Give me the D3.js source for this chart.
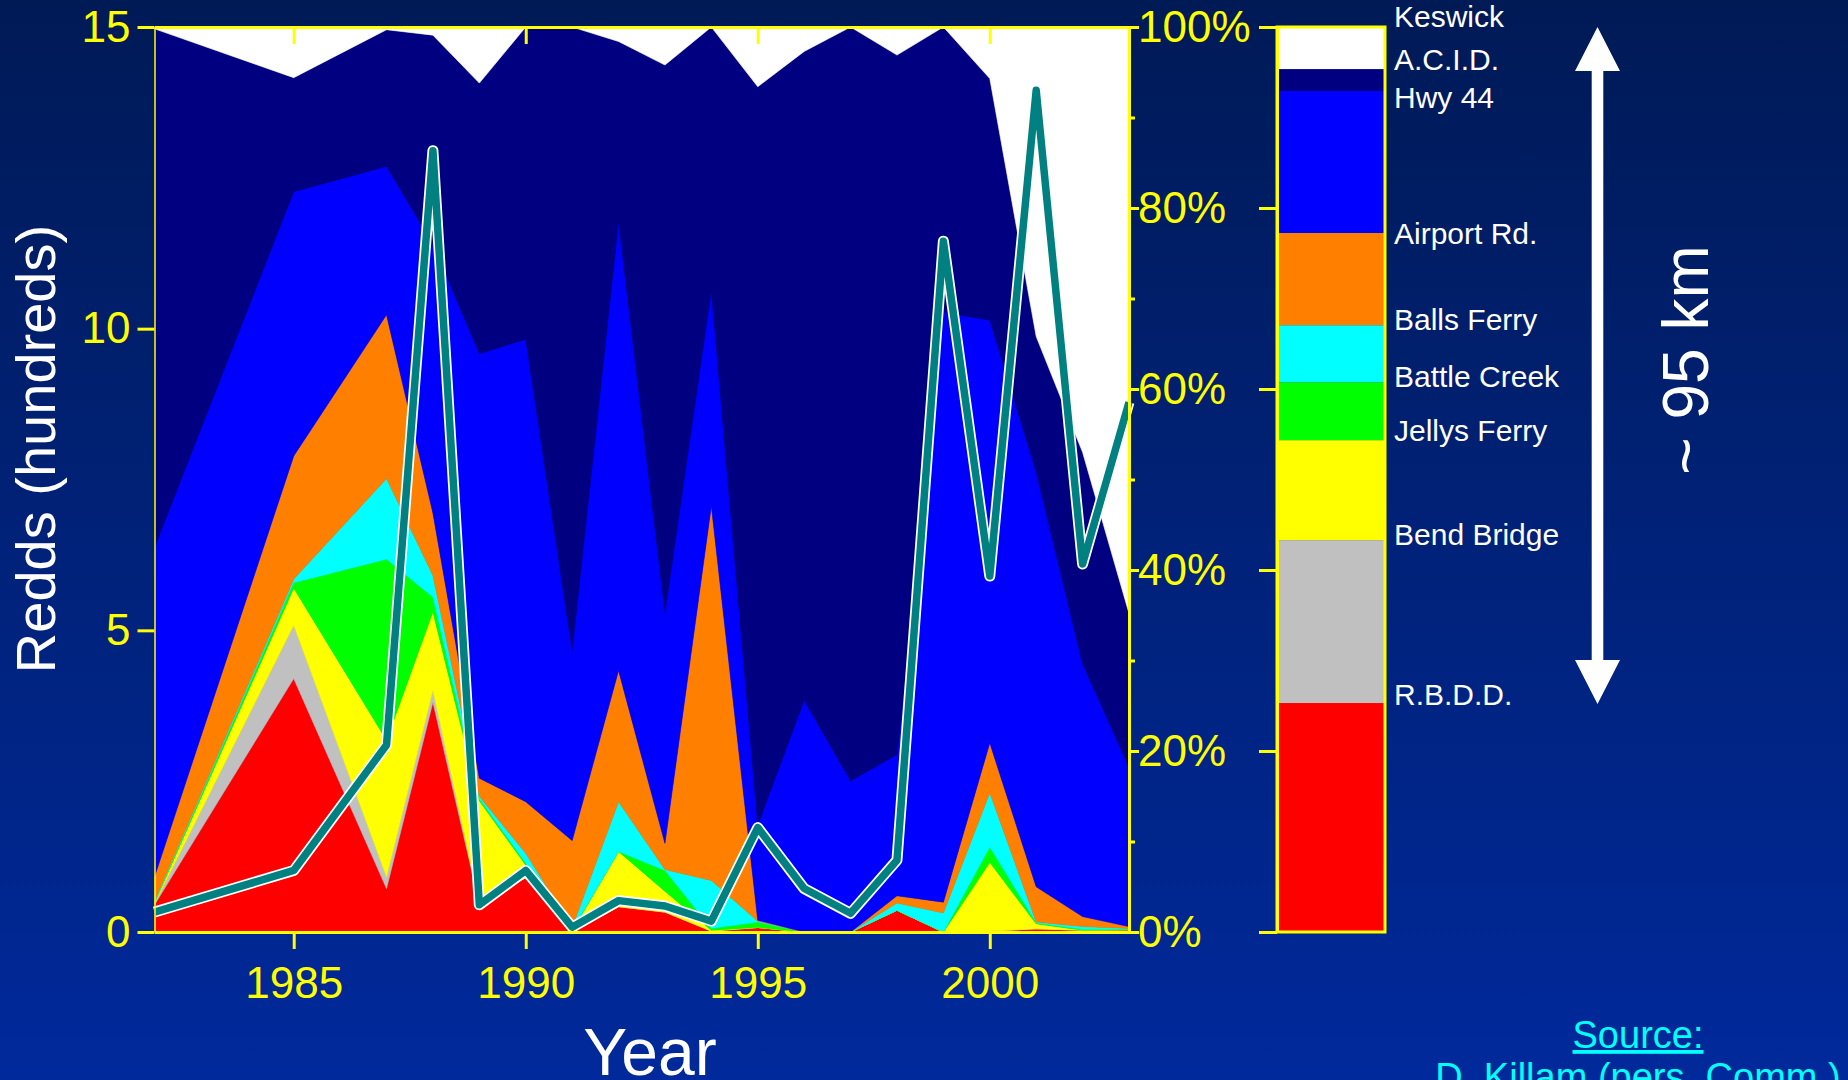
<!DOCTYPE html>
<html>
<head>
<meta charset="utf-8">
<script src="https://cdn.jsdelivr.net/npm/d3@7/dist/d3.min.js"></script>
<style>
  html, body { margin: 0; padding: 0; background: #001b58; }
  svg { display: block; }
  text { font-family: "Liberation Sans", Arial, Helvetica, sans-serif; }
</style>
</head>
<body>
<svg id="chart" width="1848" height="1080"></svg>
<script>
// ---- Data -------------------------------------------------------------
// Survey years (1983, 1984 and 1986 have no survey)
const years = [1982, 1985, 1987, 1988, 1989, 1990, 1991, 1992, 1993, 1994,
               1995, 1996, 1997, 1998, 1999, 2000, 2001, 2002, 2003];

// Share of redds (%) in each river reach, named by the reach's upstream landmark
const pctRBDD      = [3.0, 28.0, 4.8, 25.4, 3.1, 6.0, 0.0, 2.8, 2.2, 0.1, 0.5, 0.0, 0.0, 2.4, 0.0, 0.1, 0.35, 0.2, 0.25];
const pctBendBr    = [0.1, 5.9, 1.3, 1.3, 0.1, 0.0, 0.0, 0.0, 0.0, 0.0, 0.0, 0.0, 0.0, 0.0, 0.0, 0.0, 0.0, 0.0, 0.0];
const pctJellys    = [0.1, 4.1, 15.1, 8.7, 11.3, 1.4, 0.1, 6.1, 2.3, 0.1, 0.0, 0.0, 0.0, 0.0, 0.0, 7.6, 0.55, 0.0, 0.0];
const pctBattle    = [0.1, 0.6, 20.0, 1.6, 0.2, 0.2, 0.1, 0.0, 2.3, 0.2, 0.6, 0.0, 0.0, 0.0, 0.0, 1.7, 0.1, 0.1, 0.05];
const pctBalls     = [0.1, 0.4, 8.9, 2.4, 0.3, 1.1, 0.3, 5.5, 0.1, 5.3, 0.1, 0.0, 0.0, 0.8, 2.1, 6.0, 0.1, 0.3, 0.1];
const pctAirport   = [2.7, 13.6, 18.1, 6.9, 2.0, 5.7, 9.6, 14.5, 2.9, 41.4, 0.1, 0.0, 0.0, 0.8, 1.2, 5.5, 3.9, 1.1, 0.2];
const pctHwy44     = [36.4, 29.2, 16.4, 29.7, 46.9, 51.1, 21.0, 49.6, 25.5, 23.8, 10.5, 25.6, 16.7, 15.6, 65.2, 46.7, 45.8, 27.9, 17.6];
const pctACID      = [57.3, 12.6, 15.1, 23.1, 29.9, 34.5, 68.9, 19.9, 60.5, 29.1, 81.6, 71.7, 83.3, 77.3, 31.5, 26.7, 15.0, 23.4, 17.0];
const pctKeswick   = [0.2, 5.6, 0.3, 0.9, 6.2, 0.0, 0.0, 1.6, 4.2, 0.0, 6.6, 2.7, 0.0, 3.1, 0.0, 5.7, 34.2, 47.0, 64.8];

// Total redds counted (hundreds)
const totalRedds = [0.33, 1.02, 3.1, 12.95, 0.45, 1.02, 0.08, 0.52, 0.43, 0.18,
                    1.73, 0.72, 0.31, 1.19, 11.45, 5.9, 13.95, 6.1, 8.78];

// Reach names (downstream to upstream) and colours
const reachNames  = ["R.B.D.D.", "Bend Bridge", "Jellys Ferry", "Battle Creek", "Balls Ferry",
                     "Airport Rd.", "Hwy 44", "A.C.I.D.", "Keswick"];
const reachColors = ["#ff0000", "#c0c0c0", "#ffff00", "#00ff00", "#00ffff",
                     "#ff8000", "#0000ff", "#000080", "#ffffff"];
// Share of the ~95 km river length (%) taken by each reach, same order
const reachLength = [25.3, 18.0, 11.05, 6.4, 6.3, 10.2, 15.7, 2.4, 4.65];

// Axis ticks
const leftTicks   = [0, 5, 10, 15];
const rightTicks  = [0, 20, 40, 60, 80, 100];
const minorTicks  = [10, 30, 50, 70, 90];
const yearTicks   = [1985, 1990, 1995, 2000];

// ---- Layout -----------------------------------------------------------
const W = 1848, H = 1080;
const plot = { left: 154.5, right: 1129, top: 27, bottom: 932 };
const bar  = { left: 1277, right: 1385 };
const yellow = "#ffff00";
// vertical nudge of each landmark label from its boundary (px), same order as reachNames
const labelShift = [2, 5, 1, 5, 5, 11, 17, 1, 0];

const svg = d3.select("#chart");

// background
const defs = svg.append("defs");
const grad = defs.append("linearGradient").attr("id", "bg")
  .attr("x1", 0).attr("y1", 0).attr("x2", 0).attr("y2", 1);
grad.append("stop").attr("offset", "0%").attr("stop-color", "#001a56");
grad.append("stop").attr("offset", "100%").attr("stop-color", "#00299b");
svg.append("rect").attr("width", W).attr("height", H).attr("fill", "url(#bg)");

defs.append("clipPath").attr("id", "plotClip")
  .append("rect")
  .attr("x", plot.left).attr("y", plot.top)
  .attr("width", plot.right - plot.left).attr("height", plot.bottom - plot.top);

// ---- Scales -----------------------------------------------------------
const x  = d3.scaleLinear().domain([1982, 2003]).range([plot.left, plot.right]);
const yL = d3.scaleLinear().domain([0, 15]).range([plot.bottom, plot.top]);
const yR = d3.scaleLinear().domain([0, 100]).range([plot.bottom, plot.top]);

// ---- Stacked percentage areas ------------------------------------------
const seriesArrays = [pctRBDD, pctBendBr, pctJellys, pctBattle, pctBalls,
                      pctAirport, pctHwy44, pctACID, pctKeswick];
const rows = years.map((yr, i) => {
  const r = { year: yr };
  reachNames.forEach((n, k) => { r[n] = seriesArrays[k][i]; });
  return r;
});
const stack = d3.stack().keys(reachNames)(rows);

const area = d3.area()
  .x(d => x(d.data.year))
  .y0(d => yR(d[0]))
  .y1(d => yR(d[1]));

svg.append("g").attr("clip-path", "url(#plotClip)")
  .selectAll("path").data(stack).join("path")
  .attr("d", area)
  .attr("fill", (d, i) => reachColors[i])
  .attr("stroke", (d, i) => reachColors[i])
  .attr("stroke-width", 0.6);

// ---- Total redds line -------------------------------------------------
const line = d3.line().x((d, i) => x(years[i])).y(d => yL(d));
const lineG = svg.append("g");
lineG.append("path").datum(totalRedds).attr("d", line)
  .attr("fill", "none").attr("stroke", "#ffffff").attr("stroke-width", 11)
  .attr("stroke-linejoin", "round");
lineG.append("path").datum(totalRedds).attr("d", line)
  .attr("fill", "none").attr("stroke", "#008080").attr("stroke-width", 7.5)
  .attr("stroke-linejoin", "round");

// ---- Axes -------------------------------------------------------------
function styleAxis(g, domainWidth) {
  g.selectAll(".tick line").attr("stroke", yellow).attr("stroke-width", 3);
  g.select(".domain").attr("stroke", yellow).attr("stroke-width", domainWidth);
  g.selectAll(".tick text").attr("fill", yellow).attr("font-size", 44)
    .attr("font-family", "'Liberation Sans', Arial, sans-serif");
}

// left (redds, hundreds)
const axL = svg.append("g").attr("transform", `translate(${plot.left},0)`)
  .call(d3.axisLeft(yL).tickValues(leftTicks).tickSize(17).tickSizeOuter(0).tickPadding(7));
styleAxis(axL, 1.5);

// bottom (years)
const axB = svg.append("g").attr("transform", `translate(0,${plot.bottom})`)
  .call(d3.axisBottom(x).tickValues(yearTicks).tickFormat(d3.format("d"))
        .tickSize(17).tickSizeOuter(0).tickPadding(18));
styleAxis(axB, 3);

// top frame with inward ticks
const axT = svg.append("g").attr("transform", `translate(0,${plot.top})`)
  .call(d3.axisTop(x).tickValues(yearTicks).tickFormat("").tickSize(-17).tickSizeOuter(0));
styleAxis(axT, 3);

// right (percent)
const axR = svg.append("g").attr("transform", `translate(${plot.right},0)`)
  .call(d3.axisRight(yR).tickValues(rightTicks).tickFormat(d => d + "%")
        .tickSize(10).tickSizeOuter(0).tickPadding(-1));
styleAxis(axR, 3);
const axRm = svg.append("g").attr("transform", `translate(${plot.right},0)`)
  .call(d3.axisRight(yR).tickValues(minorTicks).tickFormat("").tickSize(6).tickSizeOuter(0));
styleAxis(axRm, 3);

// ---- Reach-length bar --------------------------------------------------
let cum = 0;
const segs = reachLength.map((v, i) => {
  const s = { i, y0: cum, y1: cum + v };
  cum += v;
  return s;
});
const barG = svg.append("g");
barG.selectAll("rect").data(segs).join("rect")
  .attr("x", bar.left).attr("width", bar.right - bar.left)
  .attr("y", d => yR(d.y1)).attr("height", d => yR(d.y0) - yR(d.y1))
  .attr("fill", d => reachColors[d.i]);
barG.append("rect")
  .attr("x", bar.left).attr("y", yR(100))
  .attr("width", bar.right - bar.left).attr("height", yR(0) - yR(100))
  .attr("fill", "none").attr("stroke", yellow).attr("stroke-width", 3);
const axBar = svg.append("g").attr("transform", `translate(${bar.left},0)`)
  .call(d3.axisLeft(yR).tickValues(rightTicks).tickFormat("").tickSize(18).tickSizeOuter(0));
styleAxis(axBar, 3);

// landmark labels at the upstream edge of each reach
barG.selectAll("text.site").data(segs).join("text")
  .attr("class", "site")
  .attr("x", 1394)
  .attr("y", d => yR(d.y1) + labelShift[d.i])
  .attr("fill", "#ffffff").attr("font-size", 30)
  .text(d => reachNames[d.i]);

// ---- River distance arrow --------------------------------------------
const ax0 = 1597.5, shaftW = 11.6, headW = 45, headL = 44;
const arrowTop = yR(100), arrowBot = 704;
const arrowPts = [
  [ax0, arrowTop],
  [ax0 + headW / 2, arrowTop + headL],
  [ax0 + shaftW / 2, arrowTop + headL],
  [ax0 + shaftW / 2, arrowBot - headL],
  [ax0 + headW / 2, arrowBot - headL],
  [ax0, arrowBot],
  [ax0 - headW / 2, arrowBot - headL],
  [ax0 - shaftW / 2, arrowBot - headL],
  [ax0 - shaftW / 2, arrowTop + headL],
  [ax0 - headW / 2, arrowTop + headL]
];
svg.append("path").attr("d", "M" + arrowPts.map(p => p.join(",")).join("L") + "Z")
  .attr("fill", "#ffffff");

svg.append("text")
  .attr("transform", "translate(1708,360) rotate(-90)")
  .attr("text-anchor", "middle").attr("fill", "#ffffff").attr("font-size", 64)
  .text("~ 95 km");

// ---- Titles -----------------------------------------------------------
svg.append("text")
  .attr("transform", "translate(55,449) rotate(-90)")
  .attr("text-anchor", "middle").attr("fill", "#ffffff").attr("font-size", 56)
  .text("Redds (hundreds)");

svg.append("text")
  .attr("x", 650).attr("y", 1075)
  .attr("text-anchor", "middle").attr("fill", "#ffffff").attr("font-size", 66)
  .text("Year");

svg.append("text")
  .attr("x", 1638).attr("y", 1048)
  .attr("text-anchor", "middle").attr("fill", "#00ffff").attr("font-size", 38)
  .attr("text-decoration", "underline")
  .text("Source:");
svg.append("text")
  .attr("x", 1638).attr("y", 1090)
  .attr("text-anchor", "middle").attr("fill", "#00ffff").attr("font-size", 38)
  .attr("text-decoration", "underline")
  .text("D. Killam (pers. Comm.)");
</script>
</body>
</html>
